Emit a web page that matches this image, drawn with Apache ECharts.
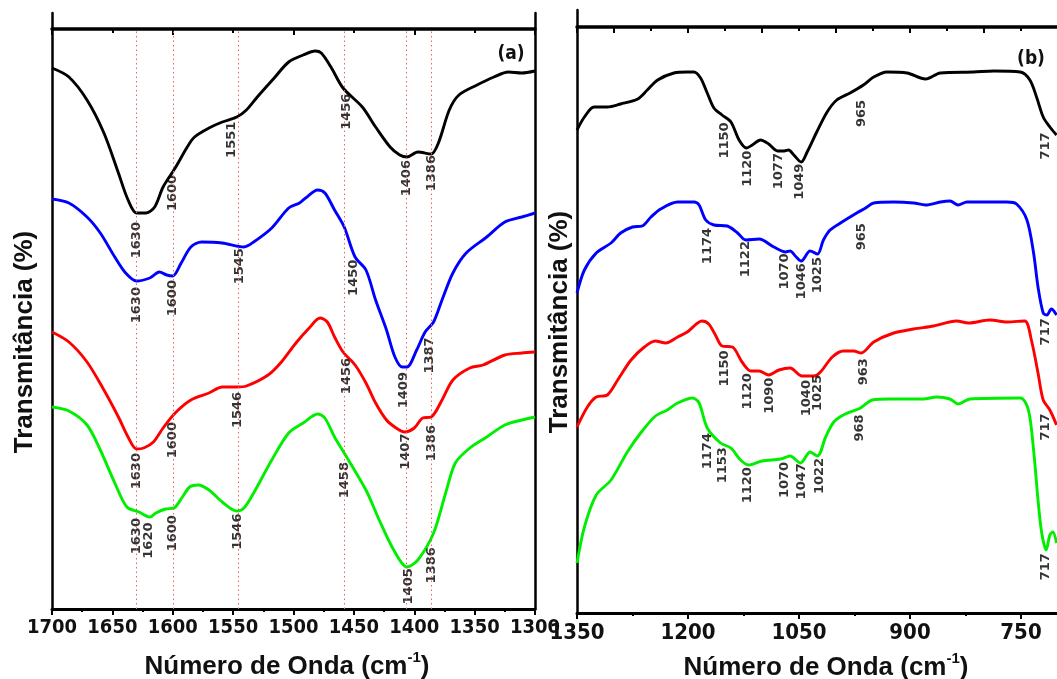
<!DOCTYPE html>
<html>
<head>
<meta charset="utf-8">
<script src="https://cdn.jsdelivr.net/npm/echarts@6/dist/echarts.min.js"></script>
<style>
html,body{margin:0;padding:0;background:#fff;}
#chart{width:1057px;height:679px;}
</style>
</head>
<body>
<div id="chart"></div>
<script>
// ---------- FTIR spectra, panel (a): 1700–1300 cm-1 ----------
// [wavenumber (cm-1), transmittance (a.u., curves stacked)]
const blackA = [[1700,54.1],[1686,53.2],[1671,50.9],[1657,47.6],[1645,43.6],[1637,40.9],[1630,39.6],[1622,39.6],[1615,40.2],[1608,42.2],[1598,44.1],[1588,46.2],[1582,47.2],[1570,48.1],[1559,48.7],[1547,49.2],[1539,49.9],[1530,51.2],[1516,53.1],[1504,54.7],[1492,55.4],[1482,55.8],[1477,55.6],[1469,54.2],[1459,52.1],[1443,50.2],[1432,48.2],[1420,46.2],[1412,45.4],[1406,45.2],[1397,45.7],[1386,45.5],[1380,46.6],[1371,49.9],[1363,51.4],[1348,52.4],[1334,53.2],[1322,53.7],[1311,53.6],[1300,53.8]];
const blueA = [[1700,41.0],[1686,40.6],[1671,39.2],[1660,37.6],[1648,35.2],[1639,33.6],[1630,32.8],[1619,33.1],[1611,33.7],[1605,33.4],[1600,33.3],[1593,34.6],[1585,36.2],[1576,36.7],[1559,36.6],[1541,36.2],[1533,36.7],[1518,38.1],[1504,40.1],[1495,40.6],[1490,41.1],[1480,41.9],[1474,41.6],[1466,39.9],[1458,38.2],[1449,35.2],[1440,33.9],[1432,30.9],[1423,27.9],[1416,25.2],[1410,24.2],[1406,24.2],[1398,25.9],[1391,27.7],[1384,28.7],[1377,30.9],[1368,33.6],[1357,35.6],[1340,37.2],[1325,38.7],[1311,39.2],[1300,39.6]];
const redA = [[1700,27.7],[1686,26.7],[1671,24.7],[1657,21.9],[1645,19.2],[1637,17.2],[1630,16.0],[1624,16.1],[1616,16.7],[1608,18.1],[1598,19.6],[1585,20.9],[1570,21.6],[1559,22.2],[1547,22.2],[1539,22.3],[1521,23.4],[1510,24.7],[1498,26.6],[1487,28.1],[1478,29.1],[1472,28.7],[1466,27.2],[1459,25.7],[1449,24.4],[1440,22.6],[1432,20.6],[1423,18.9],[1415,18.1],[1408,17.7],[1400,18.1],[1393,19.1],[1386,19.2],[1377,20.9],[1368,22.9],[1354,24.1],[1343,24.4],[1325,25.4],[1311,25.6],[1300,25.7]];
const greenA = [[1700,20.2],[1686,19.8],[1671,18.4],[1660,15.9],[1648,12.6],[1638,10.2],[1628,9.7],[1619,9.2],[1614,9.6],[1606,10.0],[1599,10.1],[1592,11.2],[1586,12.2],[1579,12.4],[1570,11.9],[1559,10.7],[1547,9.8],[1541,10.1],[1533,11.6],[1518,14.9],[1504,17.6],[1492,18.6],[1480,19.5],[1474,19.1],[1466,17.2],[1458,15.6],[1440,11.9],[1429,8.9],[1417,5.9],[1406,4.2],[1397,4.9],[1384,7.6],[1374,11.6],[1366,14.6],[1354,16.1],[1340,17.2],[1325,18.4],[1311,18.9],[1300,19.2]];

// ---------- FTIR spectra, panel (b): 1350–700 cm-1 ----------
const blackB = [[1350,48.3],[1340,49.6],[1327,50.6],[1309,50.6],[1291,50.9],[1268,51.4],[1255,52.3],[1241,53.3],[1219,54.0],[1201,54.1],[1192,54.1],[1183,53.5],[1174,52.0],[1165,50.5],[1154,49.8],[1142,49.1],[1131,47.3],[1121,46.5],[1113,46.8],[1102,47.3],[1091,46.9],[1079,46.2],[1070,46.2],[1064,46.3],[1057,45.8],[1047,45.1],[1039,46.1],[1026,48.1],[1012,50.1],[999,51.3],[981,52.0],[963,52.8],[949,53.6],[931,54.1],[904,54.0],[879,53.4],[859,54.0],[814,54.1],[787,54.2],[751,54.1],[738,53.3],[729,51.6],[720,49.6],[711,48.6],[702,47.8]];
const blueB = [[1350,32.0],[1340,34.3],[1324,36.0],[1304,37.0],[1291,38.0],[1275,38.6],[1262,38.7],[1250,39.6],[1237,40.4],[1214,41.1],[1192,41.1],[1185,40.8],[1176,39.3],[1165,38.8],[1147,38.7],[1133,38.0],[1122,37.3],[1104,37.4],[1084,36.6],[1068,36.1],[1062,36.2],[1055,35.7],[1047,35.2],[1035,36.2],[1025,35.9],[1017,37.3],[1008,38.3],[994,39.0],[972,40.0],[960,40.5],[949,41.0],[922,41.1],[895,41.0],[879,40.8],[859,41.1],[846,41.2],[835,40.8],[823,41.1],[769,41.1],[756,40.9],[742,39.3],[733,36.0],[727,32.6],[720,30.0],[715,29.8],[709,30.4],[702,29.8]];
const redB = [[1350,18.6],[1336,20.6],[1324,21.6],[1309,21.8],[1295,23.3],[1277,25.3],[1259,26.6],[1244,27.2],[1230,27.0],[1214,27.6],[1201,28.1],[1181,29.2],[1172,28.9],[1163,27.8],[1154,26.7],[1140,26.6],[1127,25.1],[1115,24.2],[1104,24.2],[1091,23.8],[1077,24.3],[1062,24.5],[1046,23.7],[1030,23.7],[1021,24.1],[1005,25.6],[990,26.2],[976,26.2],[966,26.0],[949,27.1],[922,28.0],[895,28.4],[868,28.7],[837,29.2],[821,29.0],[792,29.3],[769,29.1],[745,29.2],[736,27.3],[727,24.0],[720,21.3],[711,20.3],[702,18.8]];
const greenB = [[1350,5.0],[1340,8.6],[1324,11.8],[1304,13.3],[1282,16.1],[1264,18.0],[1244,19.7],[1228,20.3],[1214,21.0],[1194,21.5],[1185,21.0],[1174,18.5],[1156,17.0],[1142,16.5],[1129,15.3],[1118,14.8],[1100,15.2],[1075,15.4],[1062,15.7],[1048,15.0],[1035,16.1],[1025,15.7],[1014,17.6],[1003,19.1],[990,19.8],[967,20.5],[951,21.3],[927,21.4],[882,21.4],[864,21.6],[846,21.4],[835,20.9],[819,21.4],[751,21.5],[740,20.3],[733,16.3],[727,11.3],[722,8.0],[716,6.3],[711,7.8],[707,8.1],[702,7.0]];

// ---------- band assignments (cm-1) ----------
const peaksBlackA = [1630,1600,1551,1456,1406,1386];
const peaksBlueA  = [1630,1600,1545,1450,1409,1387];
const peaksRedA   = [1630,1600,1546,1456,1407,1386];
const peaksGreenA = [1630,1620,1600,1546,1458,1405,1386];
const peaksBlackB = [1150,1120,1077,1049,965,717];
const peaksBlueB  = [1174,1122,1070,1046,1025,965,717];
const peaksRedB   = [1150,1120,1090,1040,1025,963,717];
const peaksGreenB = [1174,1153,1120,1070,1047,1022,968,717];
// reference lines across panel (a)
const guideLinesA = [1630,1600,1546,1458,1407,1386];

// ---------- layout: gap (px) between curve and its band label ----------
const gapBlackA = [9,3,3,2,3,1];
const gapBlueA  = [6,4,2,6,5,11];
const gapRedA   = [4,6,5,2,2,8];
const gapGreenA = [7,6,7,3,9,2,10];
const gapBlackB = [5,3,2,3,14,12];
const gapBlueB  = [7,1,2,3,3,13,4];
const gapRedB   = [4,6,3,4,1,7,10];
const gapGreenB = [5,3,3,4,1,7,6,6];

const COLORS = {black:'#000000', blue:'#0000ff', red:'#ff0000', green:'#00ee00'};
const AXIS_FONT = '"Liberation Sans Narrow", "DejaVu Sans Condensed", "Arial Narrow", "Liberation Sans", sans-serif';

// value of a spectrum at a given wavenumber (linear between samples)
function valueAt(curve, wn) {
  for (let i = 0; i < curve.length - 1; i++) {
    const [x0, y0] = curve[i], [x1, y1] = curve[i + 1];
    if ((wn <= x0 && wn >= x1) || (wn >= x0 && wn <= x1)) {
      const t = (wn - x0) / (x1 - x0);
      return y0 + t * (y1 - y0);
    }
  }
  return curve[curve.length - 1][1];
}

function spectrum(data, color, grid) {
  return {
    type: 'line', data: data, xAxisIndex: grid * 2, yAxisIndex: grid === 0 ? 0 : 2,
    showSymbol: false, smooth: 0.3, silent: true, z: 3,
    lineStyle: {color: color, width: 2.9}
  };
}

function bandLabels(curve, peaks, gaps, grid) {
  return {
    type: 'scatter', xAxisIndex: grid * 2, yAxisIndex: grid === 0 ? 0 : 2,
    symbol: 'circle', symbolSize: 0.1, silent: true, z: 4,
    itemStyle: {color: 'transparent'},
    data: peaks.map((wn, i) => ({
      value: [wn, valueAt(curve, wn)],
      label: {distance: gaps[i]}
    })),
    label: {
      show: true, position: 'bottom', rotate: 90,
      align: 'right', verticalAlign: 'middle',
      formatter: p => String(p.value[0]),
      fontFamily: '"DejaVu Sans", sans-serif', fontWeight: 'bold',
      fontSize: 13, color: '#000'
    }
  };
}

function bottomAxis(grid, min, max, interval, fontSize) {
  return {
    gridIndex: grid, type: 'value', position: 'bottom', inverse: true,
    min: min, max: max, interval: interval,
    axisLine: {show: true, onZero: false, lineStyle: {color: '#000', width: 3}},
    axisTick: {show: true, inside: false, length: 6, lineStyle: {color: '#000', width: 2}},
    minorTick: {show: true, splitNumber: 2, length: 3, lineStyle: {color: '#000', width: 2}},
    axisLabel: {show: true, margin: 9, color: '#111', fontFamily: AXIS_FONT,
                fontWeight: 'bold', fontSize: fontSize, formatter: v => String(v),
                hideOverlap: false},
    splitLine: {show: false}, minorSplitLine: {show: false}
  };
}

function topAxis(grid, min, max, offset) {
  return {
    gridIndex: grid, type: 'value', position: 'top', inverse: true, offset: offset,
    min: min, max: max, interval: 100,
    axisLine: {show: true, onZero: false, lineStyle: {color: '#000', width: 3.5}},
    axisTick: {show: true, inside: true, length: 6, lineStyle: {color: '#000', width: 2}},
    minorTick: {show: true, splitNumber: 2, length: 4, lineStyle: {color: '#000', width: 2}},
    axisLabel: {show: false}, splitLine: {show: false}, minorSplitLine: {show: false}
  };
}

function frameAxis(grid, max, position) {
  return {
    gridIndex: grid, type: 'value', position: position, min: 0, max: max,
    axisLine: {show: true, onZero: false, lineStyle: {color: '#000', width: 2.5}},
    axisTick: {show: false}, axisLabel: {show: false}, splitLine: {show: false}
  };
}

const guideSeries = {
  type: 'line', data: [], xAxisIndex: 0, yAxisIndex: 0, silent: true, z: 1,
  markLine: {
    silent: true, symbol: 'none', animation: false,
    label: {show: false},
    lineStyle: {color: '#f06060', type: [1.5, 3], width: 1},
    data: guideLinesA.map(wn => [{coord: [wn, 0]}, {coord: [wn, 58]}])
  }
};

const titleFont = '"Liberation Sans", Arial, sans-serif';
function xTitle(cx, cy) {
  return {
    type: 'text', x: cx, y: cy, silent: true,
    style: {
      text: '{a|Número de Onda (cm}{s|-1}{a|)}',
      align: 'center', verticalAlign: 'middle',
      textAlign: 'center', textVerticalAlign: 'middle',
      rich: {
        a: {fontFamily: titleFont, fontWeight: 'bold', fontSize: 26, fill: '#111', color: '#111', verticalAlign: 'bottom', lineHeight: 30},
        s: {fontFamily: titleFont, fontWeight: 'bold', fontSize: 15, fill: '#111', color: '#111', verticalAlign: 'top', lineHeight: 16}
      }
    }
  };
}
function yTitle(cx, cy) {
  return {
    type: 'text', x: cx, y: cy, rotation: Math.PI / 2, silent: true,
    style: {
      text: 'Transmitância (%)', font: 'bold 26px ' + titleFont, fill: '#111',
      align: 'center', verticalAlign: 'middle',
      textAlign: 'center', textVerticalAlign: 'middle'
    }
  };
}
function panelTag(text, cx, cy) {
  return {
    type: 'text', x: cx, y: cy, silent: true,
    style: {
      text: text, font: 'bold 19px ' + AXIS_FONT, fill: '#111',
      align: 'center', verticalAlign: 'middle',
      textAlign: 'center', textVerticalAlign: 'middle'
    }
  };
}

const chart = echarts.init(document.getElementById('chart'), null, {renderer: 'canvas'});
chart.setOption({
  backgroundColor: '#ffffff',
  animation: false,
  grid: [
    {left: 52, top: 13, width: 483, height: 596, containLabel: false, outerBoundsMode: 'none'},
    {left: 577, top: 10, width: 555, height: 603, containLabel: false, outerBoundsMode: 'none'}
  ],
  xAxis: [
    bottomAxis(0, 1300, 1700, 50, 20),
    topAxis(0, 1300, 1700, -16),
    bottomAxis(1, 600, 1350, 150, 22),
    topAxis(1, 600, 1350, -17)
  ],
  yAxis: [
    frameAxis(0, 59.6, 'left'),
    frameAxis(0, 59.6, 'right'),
    frameAxis(1, 60.3, 'left')
  ],
  series: [
    guideSeries,
    spectrum(blackA, COLORS.black, 0),
    spectrum(blueA, COLORS.blue, 0),
    spectrum(redA, COLORS.red, 0),
    spectrum(greenA, COLORS.green, 0),
    spectrum(blackB, COLORS.black, 1),
    spectrum(blueB, COLORS.blue, 1),
    spectrum(redB, COLORS.red, 1),
    spectrum(greenB, COLORS.green, 1),
    bandLabels(blackA, peaksBlackA, gapBlackA, 0),
    bandLabels(blueA, peaksBlueA, gapBlueA, 0),
    bandLabels(redA, peaksRedA, gapRedA, 0),
    bandLabels(greenA, peaksGreenA, gapGreenA, 0),
    bandLabels(blackB, peaksBlackB, gapBlackB, 1),
    bandLabels(blueB, peaksBlueB, gapBlueB, 1),
    bandLabels(redB, peaksRedB, gapRedB, 1),
    bandLabels(greenB, peaksGreenB, gapGreenB, 1)
  ],
  graphic: [
    yTitle(25, 342),
    yTitle(560, 322),
    xTitle(287, 665),
    xTitle(826, 666),
    panelTag('(a)', 511, 54),
    panelTag('(b)', 1031, 59)
  ]
});
</script>
</body>
</html>
